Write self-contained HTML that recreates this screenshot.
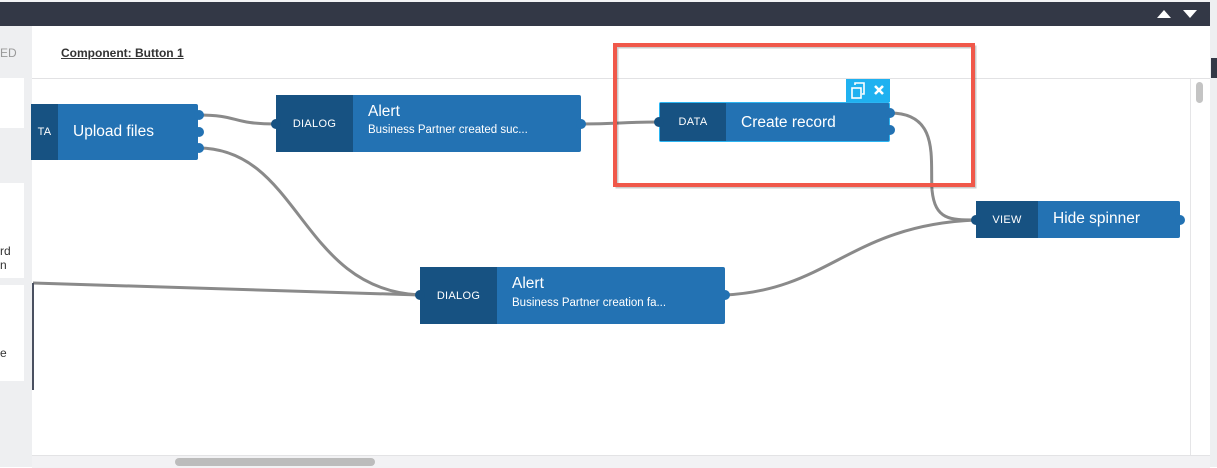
<!DOCTYPE html>
<html><head><meta charset="utf-8"><style>
body{margin:0;width:1217px;height:467px;overflow:hidden;background:#fff;font-family:"Liberation Sans",sans-serif;position:relative}
.a{position:absolute}
.node{position:absolute;background:#2372b3;border-radius:2px;color:#fff}
.node .d{position:absolute;left:0;top:0;bottom:0;background:#175282;font-size:11px;display:flex;align-items:center;justify-content:center;letter-spacing:.3px}
.t{position:absolute;font-size:15.5px}
.s{position:absolute;font-size:11.5px}
</style></head><body>
<div class="a" style="left:0;top:0;width:1217px;height:2px;background:#f3f3f5"></div>
<div class="a" style="left:0;top:2px;width:1210px;height:24px;background:#333846"></div>
<div class="a" style="left:1210px;top:0;width:7px;height:467px;background:#eeeff1"></div>
<div class="a" style="left:1211px;top:58px;width:6px;height:20px;background:#333846"></div>
<div class="a" style="left:1157px;top:10px;width:0;height:0;border-left:7px solid transparent;border-right:7px solid transparent;border-bottom:8px solid #fff"></div>
<div class="a" style="left:1183px;top:10px;width:0;height:0;border-left:7px solid transparent;border-right:7px solid transparent;border-top:8px solid #fff"></div>
<div class="a" style="left:0;top:26px;width:32px;height:441px;background:#eeeff1"></div>
<div class="a" style="left:0;top:46px;font-size:12px;color:#999">ED</div>
<div class="a" style="left:0;top:78px;width:24px;height:50px;background:#fff"></div>
<div class="a" style="left:0;top:183px;width:24px;height:95px;background:#fff"></div>
<div class="a" style="left:0;top:244px;font-size:12px;color:#333;line-height:14px">rd<br>n</div>
<div class="a" style="left:0;top:285px;width:24px;height:96px;background:#fff"></div>
<div class="a" style="left:0;top:346px;font-size:12px;color:#333">e</div>
<div class="a" style="left:32px;top:78px;width:1178px;height:1px;background:#e2e2e4"></div>
<div class="a" style="left:61px;top:46px;font-size:12px;font-weight:bold;color:#333;text-decoration:underline">Component: Button 1</div>
<div class="a" style="left:1190px;top:79px;width:1px;height:376px;background:#e5e5e7"></div>
<div class="a" style="left:1196px;top:82px;width:7px;height:21px;background:#c4c4c4;border-radius:4px"></div>
<div class="a" style="left:32px;top:455px;width:1178px;height:12px;background:#f2f2f4;border-top:1px solid #e3e3e5"></div>
<div class="a" style="left:175px;top:458px;width:200px;height:8px;background:#bcbcbc;border-radius:4px"></div>
<svg class="a" style="left:0;top:0" width="1217" height="467">
<g fill="none" stroke="#8a8a8a" stroke-width="3">
<path d="M198 115 C240 115 230 124 276 124"/>
<path d="M198 148 C300 148 300 290 420 295"/>
<path d="M581 124 C620 124 620 122 659 122"/>
<path d="M890 113 C940 113 930 160 932 190 C935 220 950 220 976 220"/>
<path d="M725 295 C830 290 850 225 976 220"/>
<path d="M33 283 L420 295"/>
</g>
<path d="M33 283 V390" stroke="#4a5060" stroke-width="2"/>
<rect x="617" y="47" width="358" height="140" fill="none" stroke="rgba(0,0,0,0.2)" stroke-width="3"/>
<rect x="615" y="45" width="358" height="140" fill="none" stroke="#f0584a" stroke-width="4"/>
<rect x="846" y="79" width="44" height="23" fill="#1fb1f0"/>
<rect x="852" y="88" width="9" height="10" fill="none" stroke="#fff" stroke-width="1.6"/>
<path d="M855 85 V83 H864 V94 H862" fill="none" stroke="#fff" stroke-width="1.6"/>
<path d="M875 86 L883 94 M883 86 L875 94" stroke="#fff" stroke-width="2.6"/>
</svg>
<div class="node" style="left:31px;top:104px;width:167px;height:56px"><div class="d" style="width:27px">TA</div><div class="t" style="left:42px;top:19px">Upload files</div></div>
<div class="node" style="left:276px;top:95px;width:305px;height:57px"><div class="d" style="width:77px">DIALOG</div><div class="t" style="left:92px;top:8px">Alert</div><div class="s" style="left:92px;top:29px">Business Partner created suc...</div></div>
<div class="node" style="left:659px;top:102px;width:229px;height:38px;border:1px solid #2bb5f2"><div class="d" style="width:66px">DATA</div><div class="t" style="left:81px;top:11px">Create record</div></div>
<div class="node" style="left:976px;top:201px;width:204px;height:37px"><div class="d" style="width:62px">VIEW</div><div class="t" style="left:77px;top:9px">Hide spinner</div></div>
<div class="node" style="left:420px;top:267px;width:305px;height:57px"><div class="d" style="width:77px">DIALOG</div><div class="t" style="left:92px;top:8px">Alert</div><div class="s" style="left:92px;top:30px">Business Partner creation fa...</div></div>
<svg class="a" style="left:0;top:0" width="1217" height="467" fill="#175282">
<circle cx="199" cy="115" r="5" fill="#2372b3"/><circle cx="199" cy="132" r="5" fill="#2372b3"/><circle cx="199" cy="148" r="5" fill="#2372b3"/>
<circle cx="276" cy="124" r="5"/><circle cx="581" cy="124" r="5" fill="#2372b3"/>
<circle cx="659" cy="122" r="5"/><circle cx="890" cy="113" r="5" fill="#2372b3"/><circle cx="890" cy="130" r="5" fill="#2372b3"/>
<circle cx="976" cy="220" r="5"/><circle cx="1180" cy="220" r="5" fill="#2372b3"/>
<circle cx="420" cy="295" r="5"/><circle cx="725" cy="295" r="5" fill="#2372b3"/>
</svg>
</body></html>
